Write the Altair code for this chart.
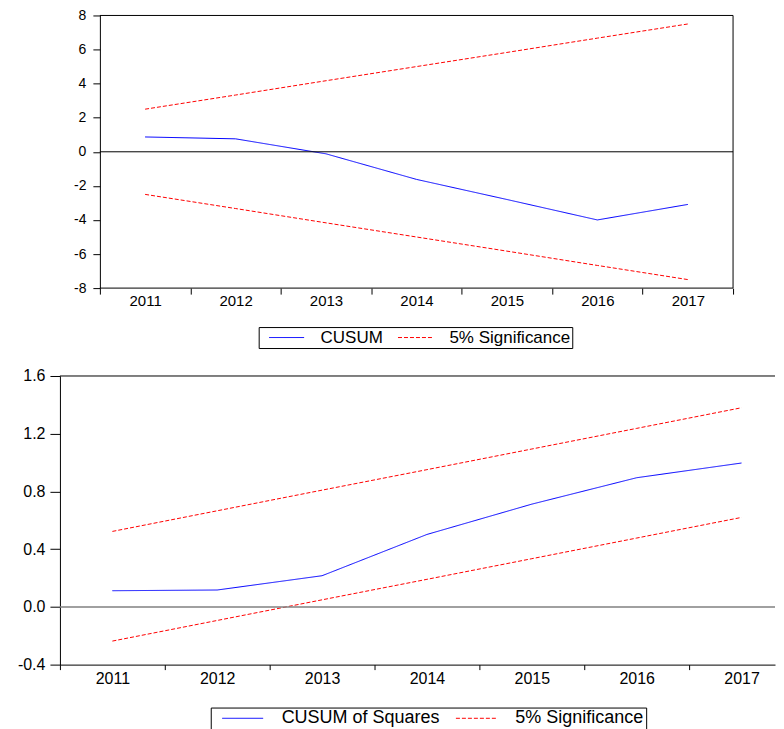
import altair as alt
import pandas as pd

# ---------------- data ----------------
years = [2011, 2012, 2013, 2014, 2015, 2016, 2017]

cusum = [0.87, 0.76, -0.12, -1.62, -2.80, -4.00, -3.09]
cusum_upper = [2.50, 3.33, 4.17, 5.00, 5.83, 6.67, 7.50]
cusum_lower = [-2.50, -3.33, -4.17, -5.00, -5.83, -6.67, -7.50]

cusumsq = [0.112, 0.117, 0.216, 0.502, 0.712, 0.895, 0.997]
cusumsq_upper = [0.523, 0.666, 0.809, 0.951, 1.094, 1.237, 1.380]
cusumsq_lower = [-0.237, -0.094, 0.049, 0.191, 0.334, 0.477, 0.620]

top_y_ticks = [-8, -6, -4, -2, 0, 2, 4, 6, 8]
bottom_y_ticks = [-0.4, 0.0, 0.4, 0.8, 1.2, 1.6]

top_series = ["CUSUM", "5% Significance"]
bottom_series = ["CUSUM of Squares", "5% Significance"]

FONT = "Liberation Sans"
BLUE = "#0000ff"
RED = "#ff0000"


def build(names, main, up, lo):
    rows = []
    for y, v in zip(years, main):
        rows.append({"year": y, "value": v, "series": names[0], "line": "main"})
    for y, v in zip(years, up):
        rows.append({"year": y, "value": v, "series": names[1], "line": "upper"})
    for y, v in zip(years, lo):
        rows.append({"year": y, "value": v, "series": names[1], "line": "lower"})
    return pd.DataFrame(rows)


top_df = build(top_series, cusum, cusum_upper, cusum_lower)
bot_df = build(bottom_series, cusumsq, cusumsq_upper, cusumsq_lower)

x_lo = years[0] - 0.5
x_hi = years[-1] + 0.5
x_tick_values = sorted(set([y - 0.5 for y in years] + years + [x_hi]))

# frame of the top panel (zero line, top, bottom, right edges) from the domain ends
t_lo, t_hi = top_y_ticks[0], top_y_ticks[-1]
top_frame_df = pd.DataFrame({
    "x": [x_lo, x_lo, x_lo, x_hi],
    "x2": [x_hi, x_hi, x_hi, x_hi],
    "y": [0, t_hi, t_lo, t_lo],
    "y2": [0, t_hi, t_lo, t_hi],
    "kind": ["frame"] * 4,
})
b_hi = bottom_y_ticks[-1]
bot_rules_df = pd.DataFrame({"y": [0.0, b_hi], "kind": ["zero", "top"]})

# scale geometry (pixels per year)
BOT_W = 716
top_band_px = 634 / 7
top_x_domain = [x_lo - 40 / top_band_px, x_hi]
bot_x_domain = [x_lo, x_lo + BOT_W / 105]

tick_cond = {"condition": {"test": "datum.value % 1 === 0", "value": "transparent"},
             "value": "black"}
label_expr = "datum.value % 1 === 0 ? format(datum.value, 'd') : ''"


def y_label_expr(fmt):
    return f"(datum.value < 0 ? '-' : '') + format(abs(datum.value), '{fmt}')"


def legend(names, x, y, fs, sym, symoff, lab_gap, colpad):
    dash_expr = f"datum.value == '{names[0]}' ? [1, 0] : [4, 2]"
    color_expr = f"datum.value == '{names[0]}' ? '{BLUE}' : '{RED}'"
    return alt.Legend(orient="none", legendX=x, legendY=y, direction="horizontal",
                      title=None, strokeColor="black", padding=2, clipHeight=17,
                      symbolType="stroke", symbolSize=sym * sym, symbolStrokeWidth=1,
                      symbolOffset=symoff, symbolDash=alt.ExprRef(expr=dash_expr),
                      symbolStrokeColor=alt.ExprRef(expr=color_expr),
                      labelFontSize=fs, labelFont=FONT, labelColor="black",
                      labelOffset=symoff + lab_gap, columnPadding=colpad, labelLimit=400,
                      labelExpr=f"datum.label == '{names[-1]}' ? datum.label + '  ' : datum.label")


def lines_layer(df, names, xs, xa, ys, ya, leg):
    return alt.Chart(df).mark_line(strokeWidth=1).encode(
        x=alt.X("year:Q", scale=xs, axis=xa),
        y=alt.Y("value:Q", scale=ys, axis=ya),
        color=alt.Color("series:N", scale=alt.Scale(domain=names, range=[BLUE, RED]),
                        legend=leg),
        strokeDash=alt.StrokeDash("series:N",
                                  scale=alt.Scale(domain=names, range=[[1, 0], [4, 2]]),
                                  legend=None),
        detail="line:N",
    )


# ---------------- top panel ----------------
top_xs = alt.Scale(domain=top_x_domain, nice=False, zero=False)
top_xa = alt.Axis(values=x_tick_values, labelExpr=label_expr, tickColor=tick_cond,
                  tickSize=6, labelPadding=-1, domain=False, labelFontSize=15,
                  labelOverlap=False, title=None)
top_ys = alt.Scale(domain=[t_lo, t_hi], nice=False, zero=False)
top_ya = alt.Axis(values=top_y_ticks, labelExpr=y_label_expr("d"), offset=-40, tickSize=7,
                  labelPadding=7, labelFontSize=14, labelOverlap=False, labelSeparation=0,
                  title=None)

top_lines = lines_layer(top_df, top_series, top_xs, top_xa, top_ys, top_ya,
                        legend(top_series, 199, 312, 17, 35, 8, 8, 6))
top_frame = alt.Chart(top_frame_df).mark_rule().encode(
    x=alt.X("x:Q", scale=top_xs, axis=top_xa), x2="x2:Q",
    y=alt.Y("y:Q", scale=top_ys, axis=top_ya), y2="y2:Q",
    stroke=alt.Stroke("kind:N", scale=alt.Scale(domain=["frame"], range=["black"]),
                      legend=None),
    strokeWidth=alt.StrokeWidth("kind:N", scale=alt.Scale(domain=["frame"], range=[1]),
                                legend=None),
)

top = alt.layer(top_lines, top_frame).properties(width=674, height=273)

# ---------------- bottom panel ----------------
bot_xs = alt.Scale(domain=bot_x_domain, nice=False, zero=False)
bot_xa = alt.Axis(values=[v for v in x_tick_values if v <= bot_x_domain[1]],
                  labelExpr=label_expr, tickColor=tick_cond, tickSize=5, labelPadding=0.5,
                  domain=True, labelFontSize=16, labelOverlap=False, title=None)
bot_ys = alt.Scale(domain=[bottom_y_ticks[0], b_hi], nice=False, zero=False)
bot_ya = alt.Axis(values=bottom_y_ticks, labelExpr=y_label_expr(".1f"), tickSize=10,
                  labelPadding=5, labelFontSize=16, minExtent=52, maxExtent=52,
                  labelOverlap=False, title=None)

bot_lines = lines_layer(bot_df, bottom_series, bot_xs, bot_xa, bot_ys, bot_ya,
                        legend(bottom_series, 151, 332, 18, 41, 9, 9, 6))
bot_rules = alt.Chart(bot_rules_df).mark_rule().encode(
    y=alt.Y("y:Q", scale=bot_ys, axis=bot_ya),
    stroke=alt.Stroke("kind:N", scale=alt.Scale(domain=["zero", "top"],
                                                range=["#808080", "black"]), legend=None),
    strokeWidth=alt.StrokeWidth("kind:N", scale=alt.Scale(domain=["zero", "top"],
                                                          range=[1.5, 1]), legend=None),
)

bottom = alt.layer(bot_lines, bot_rules).properties(width=BOT_W, height=289)

chart = alt.vconcat(top, bottom, spacing=19).resolve_scale(
    color="independent", strokeDash="independent", stroke="independent",
    strokeWidth="independent"
).properties(
    padding={"left": 0, "top": 0, "right": 0, "bottom": 0}
).configure_view(strokeWidth=0).configure_axis(
    labelFont=FONT, labelColor="black", domainColor="black", tickColor="black", grid=False
).configure_axisY(labelOverlap=False)

chart.save("out.html", embed_options={"renderer": "svg", "actions": False})
